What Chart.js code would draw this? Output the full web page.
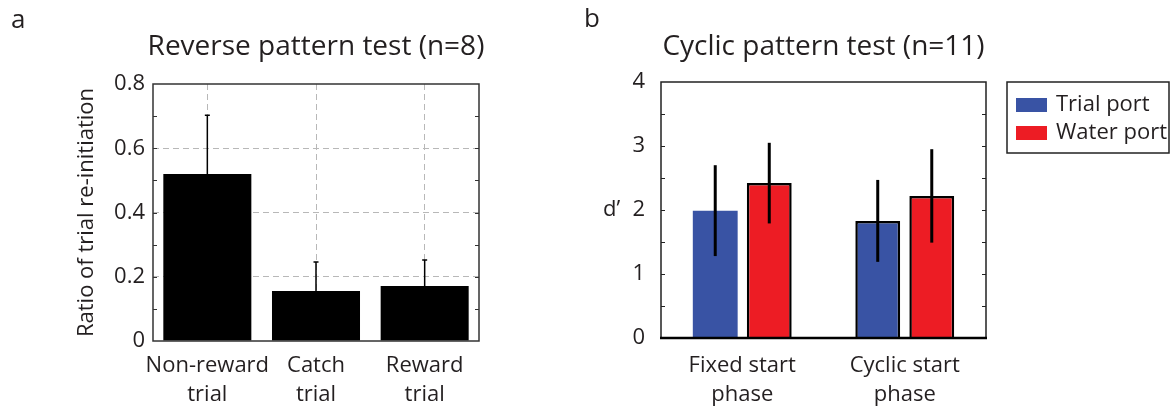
<!DOCTYPE html>
<html>
<head>
<meta charset="utf-8">
<script src="https://cdn.jsdelivr.net/npm/chart.js@4/dist/chart.umd.min.js"></script>
<style>
  html, body { margin: 0; padding: 0; background: #fff; }
  #wrap { position: relative; width: 1172px; height: 410px; }
  .panel { position: absolute; top: 0; height: 410px; }
  #panelA { left: 0; width: 560px; }
  #panelB { left: 560px; width: 612px; }
</style>
</head>
<body>
<div id="wrap">
  <div class="panel" id="panelA"><canvas id="reverseChart"></canvas></div>
  <div class="panel" id="panelB"><canvas id="cyclicChart"></canvas></div>
</div>
<script>
// panel a: reverse pattern test
const reverseLabels = [['Non-reward', 'trial'], ['Catch', 'trial'], ['Reward', 'trial']];
const reverseMeans = [0.52, 0.156, 0.171];
const reverseErr = [0.183, 0.09, 0.081];
const reverseTicks = [0, 0.2, 0.4, 0.6, 0.8];

// panel b: cyclic pattern test
const phaseLabels = [['Fixed start', 'phase'], ['Cyclic start', 'phase']];
const portNames = ['Trial port', 'Water port'];
const trialPortMeans = [1.99, 1.83];
const trialPortErr = [0.71, 0.64];
const waterPortMeans = [2.42, 2.22];
const waterPortErr = [0.63, 0.73];
const cyclicTicks = [0, 1, 2, 3, 4];

const FONT = "'Open Sans', 'Noto Sans', sans-serif";
const INK = '#231f20';
const BLUE = '#3953a4';
const RED = '#ed1c24';

Chart.defaults.font.family = FONT;
Chart.defaults.color = INK;
Chart.defaults.animation = false;

// short inward ticks on both vertical sides of the box
function innerTicks(ctx, chart, step, max, len) {
  const y = chart.scales.y;
  const { left, right } = chart.chartArea;
  ctx.beginPath();
  for (let v = step; v < max - 1e-9; v += step) {
    const py = Math.round(y.getPixelForValue(v)) + 0.5;
    ctx.moveTo(left, py); ctx.lineTo(left + len, py);
    ctx.moveTo(right, py); ctx.lineTo(right - len, py);
  }
  ctx.stroke();
}

// error bars drawn from the bar elements and the value scale
function drawErrors(chart, errs, opts) {
  const ctx = chart.ctx;
  const y = chart.scales.y;
  ctx.save();
  ctx.strokeStyle = '#000';
  ctx.lineWidth = opts.width;
  chart.data.datasets.forEach((ds, di) => {
    const meta = chart.getDatasetMeta(di);
    meta.data.forEach((bar, i) => {
      const v = ds.data[i];
      const e = errs[di][i];
      const top = y.getPixelForValue(v + e);
      const bottom = y.getPixelForValue(opts.upperOnly ? v : v - e);
      ctx.beginPath();
      ctx.moveTo(bar.x, bottom);
      ctx.lineTo(bar.x, top);
      if (opts.cap) {
        ctx.moveTo(bar.x - opts.cap, top);
        ctx.lineTo(bar.x + opts.cap, top);
      }
      ctx.stroke();
    });
  });
  ctx.restore();
}

const reversePlugin = {
  id: 'reverseDecor',
  afterDatasetsDraw(chart) {
    drawErrors(chart, [reverseErr], { width: 1.5, cap: 2.5, upperOnly: true });
  },
  afterDraw(chart) {
    const ctx = chart.ctx;
    const { left, right, top, bottom } = chart.chartArea;
    ctx.save();
    ctx.strokeStyle = '#333';
    ctx.lineWidth = 1.5;
    ctx.strokeRect(left, top, right - left, bottom - top);
    ctx.lineWidth = 1.2;
    innerTicks(ctx, chart, 0.1, 0.8, 4);

    ctx.fillStyle = INK;
    ctx.textBaseline = 'alphabetic';
    ctx.font = '26px ' + FONT;
    ctx.textAlign = 'left';
    ctx.fillText('a', 11, 28);
    ctx.textAlign = 'center';
    ctx.font = '28px ' + FONT;
    ctx.fillText('Reverse pattern test (n=8)', (left + right) / 2, 55);

    ctx.translate(87, (top + bottom) / 2);
    ctx.rotate(-Math.PI / 2);
    ctx.font = '22px ' + FONT;
    ctx.textBaseline = 'middle';
    ctx.fillText('Ratio of trial re-initiation', 0, 0);
    ctx.restore();
  }
};

new Chart(document.getElementById('reverseChart'), {
  type: 'bar',
  data: {
    labels: reverseLabels,
    datasets: [{
      data: reverseMeans,
      backgroundColor: '#000',
      borderWidth: 0,
      barPercentage: 0.9,
      categoryPercentage: 0.9
    }]
  },
  options: {
    responsive: true,
    maintainAspectRatio: false,
    layout: { padding: { left: 0, top: 84, right: 81, bottom: 0 } },
    plugins: { legend: { display: false }, tooltip: { enabled: false } },
    scales: {
      x: {
        afterFit: (s) => { s.height = 69; },
        grid: {
          offset: false,
          color: '#b8b8b8',
          lineWidth: 1,
          drawTicks: false
        },
        border: { display: false, dash: [6, 4] },
        ticks: { padding: 10, autoSkip: false, font: { size: 22, lineHeight: 1.32 }, maxRotation: 0 }
      },
      y: {
        min: 0,
        max: 0.8,
        afterFit: (s) => { s.width = 153; },
        afterBuildTicks: (s) => { s.ticks = reverseTicks.map(v => ({ value: v })); },
        grid: {
          color: (c) => (c.tick && c.tick.value > 0 && c.tick.value < 0.8) ? '#b8b8b8' : 'rgba(0,0,0,0)',
          drawTicks: false
        },
        border: { display: false, dash: [6, 4] },
        ticks: { padding: 8, font: { size: 22 }, callback: (v) => v === 0 ? '0' : v.toFixed(1) }
      }
    }
  },
  plugins: [reversePlugin]
});

const cyclicPlugin = {
  id: 'cyclicDecor',
  afterDatasetsDraw(chart) {
    drawErrors(chart, [trialPortErr, waterPortErr], { width: 3, cap: 0, upperOnly: false });
  },
  afterDraw(chart) {
    const ctx = chart.ctx;
    const { left, right, top, bottom } = chart.chartArea;
    const y = chart.scales.y;
    ctx.save();
    ctx.strokeStyle = '#222';
    ctx.lineWidth = 1.5;
    ctx.beginPath();
    ctx.moveTo(left, bottom); ctx.lineTo(left, top); ctx.lineTo(right, top); ctx.lineTo(right, bottom);
    ctx.stroke();
    ctx.lineWidth = 1.2;
    innerTicks(ctx, chart, 0.5, 4, 4);
    ctx.strokeStyle = '#000';
    ctx.lineWidth = 2.5;
    ctx.beginPath();
    ctx.moveTo(left - 1, bottom); ctx.lineTo(right + 1, bottom);
    ctx.stroke();

    ctx.fillStyle = INK;
    ctx.font = '26px ' + FONT;
    ctx.textAlign = 'left';
    ctx.textBaseline = 'alphabetic';
    ctx.fillText('b', 24, 27);
    ctx.textAlign = 'center';
    ctx.font = '28px ' + FONT;
    ctx.fillText('Cyclic pattern test (n=11)', (left + right) / 2, 55);

    ctx.textAlign = 'left';
    ctx.textBaseline = 'middle';
    ctx.font = '22px ' + FONT;
    ctx.fillText('d\u2019', 43, y.getPixelForValue(2));

    // legend box
    const lx = 447, ly = 82, lw = 162, lh = 71;
    ctx.strokeStyle = '#222';
    ctx.lineWidth = 1.5;
    ctx.strokeRect(lx, ly, lw, lh);
    ctx.font = '22px ' + FONT;
    chart.data.datasets.forEach((ds, i) => {
      const cy = ly + 23 + i * 28;
      ctx.fillStyle = ds.backgroundColor;
      ctx.fillRect(lx + 9, cy - 7, 31, 14);
      ctx.fillStyle = INK;
      ctx.fillText(ds.label, lx + 49, cy);
    });
    ctx.restore();
  }
};

new Chart(document.getElementById('cyclicChart'), {
  type: 'bar',
  data: {
    labels: phaseLabels,
    datasets: [
      {
        label: portNames[0],
        data: trialPortMeans,
        backgroundColor: BLUE,
        borderColor: '#000',
        borderWidth: [0, 2.5],
        borderSkipped: 'bottom',
        barPercentage: 0.83,
        categoryPercentage: 0.665
      },
      {
        label: portNames[1],
        data: waterPortMeans,
        backgroundColor: RED,
        borderColor: '#000',
        borderWidth: [2.5, 2.5],
        borderSkipped: 'bottom',
        barPercentage: 0.83,
        categoryPercentage: 0.665
      }
    ]
  },
  options: {
    responsive: true,
    maintainAspectRatio: false,
    layout: { padding: { left: 0, top: 82, right: 186, bottom: 0 } },
    plugins: { legend: { display: false }, tooltip: { enabled: false } },
    scales: {
      x: {
        afterFit: (s) => { s.height = 72; },
        grid: { display: false, drawTicks: false },
        border: { display: false },
        ticks: { padding: 13, autoSkip: false, font: { size: 22, lineHeight: 1.32 }, maxRotation: 0 }
      },
      y: {
        min: 0,
        max: 4,
        afterFit: (s) => { s.width = 101; },
        afterBuildTicks: (s) => { s.ticks = cyclicTicks.map(v => ({ value: v })); },
        grid: { display: false, drawTicks: false },
        border: { display: false },
        ticks: { padding: 16, font: { size: 22 } }
      }
    }
  },
  plugins: [cyclicPlugin]
});
</script>
</body>
</html>
